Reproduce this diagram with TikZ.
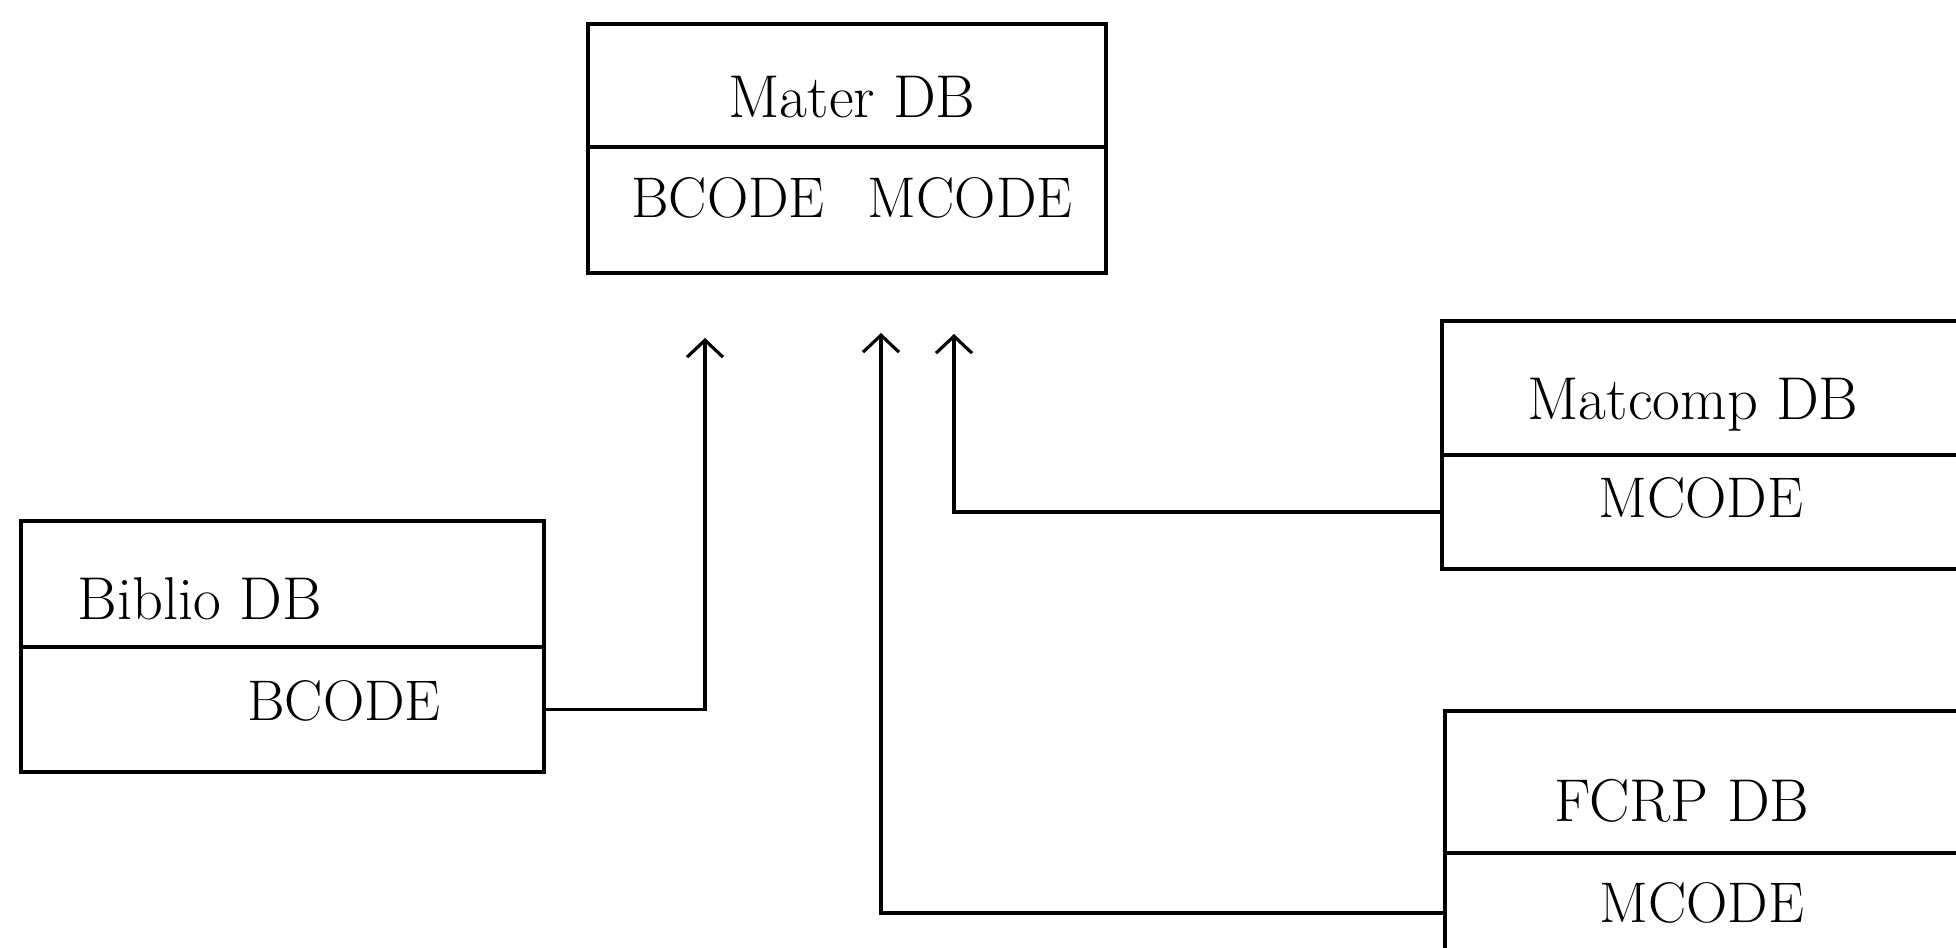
\documentclass[tikz,border=0pt]{standalone}
\usetikzlibrary{positioning, arrows.meta}

\begin{document}
\begin{tikzpicture}[
    node distance=0pt,
    dbbox/.style={
        rectangle, draw=black, line width=0.9pt,
        inner sep=0pt, outer sep=0pt,
        anchor=north west
    },
    keybox/.style={dbbox, anchor=north},
    dbname/.style={inner sep=0pt, anchor=base, font=\fontsize{17.2}{20}\selectfont},
    dbkey/.style={inner sep=0pt, anchor=base, font=\fontsize{16.3}{19}\selectfont},
    link/.style={-{Straight Barb[length=1.7mm, width=3.6mm]}, line width=0.9pt, draw=black}
]
\useasboundingbox (0,0) rectangle (19.56,-9.48);
\clip (0,0) rectangle (19.56,-9.48);

% ============ Databases ============
\node[dbbox, minimum width=5.18cm, minimum height=1.23cm] (materh) at (5.88,-0.24) {};
\node[keybox, minimum width=5.18cm, minimum height=1.26cm, below=of materh] (materk) {};

\node[dbbox, minimum width=5.23cm, minimum height=1.26cm] (biblioh) at (0.21,-5.21) {};
\node[keybox, minimum width=5.23cm, minimum height=1.25cm, below=of biblioh] (bibliok) {};

\node[dbbox, minimum width=5.5cm, minimum height=1.34cm] (matcomph) at (14.42,-3.21) {};
\node[keybox, minimum width=5.5cm, minimum height=1.14cm, below=of matcomph] (matcompk) {};

\node[dbbox, minimum width=5.5cm, minimum height=1.42cm] (fcrph) at (14.45,-7.11) {};
\node[keybox, minimum width=5.5cm, minimum height=1.2cm, below=of fcrph] (fcrpk) {};

% ============ Texts ============
\node[dbname] (matername) at (8.52,-1.18) {Mater DB};
\node[dbkey] (materkeys) at (8.52,-2.18) {BCODE\hspace{0.75em}MCODE};
\node[dbname, anchor=base west] (biblioname) at (0.77,-6.20) {Biblio DB};
\node[dbkey] (bibliokey) at (3.44,-7.21) {BCODE};
\node[dbname] (matcompname) at (16.93,-4.20) {Matcomp DB};
\node[dbkey] (matcompkey) at (17.01,-5.18) {MCODE};
\node[dbname] (fcrpname) at (16.82,-8.22) {FCRP DB};
\node[dbkey] (fcrpkey) at (17.02,-9.23) {MCODE};

% ============ Links ============
\coordinate (tipbiblio) at (7.05,-3.38);
\coordinate (tipfcrp) at (8.81,-3.33);
\coordinate (tipmatcomp) at (9.54,-3.34);

\draw[link] (bibliok.east) -| (tipbiblio);
\draw[link] (fcrpk.west) -| (tipfcrp);
\draw[link] (matcompk.west) -| (tipmatcomp);

\end{tikzpicture}
\end{document}
